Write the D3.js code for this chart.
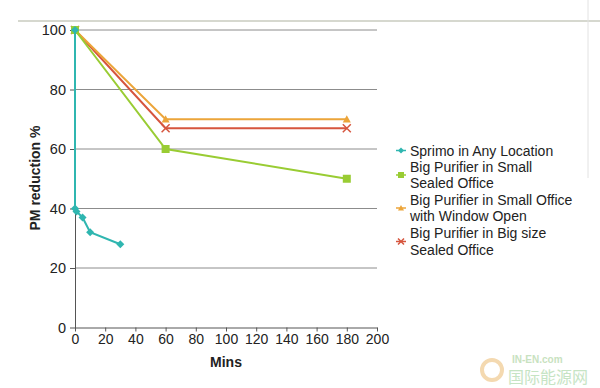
<!DOCTYPE html>
<html>
<head>
<meta charset="UTF-8">
<script src="https://d3js.org/d3.v7.min.js"></script>
<style>
  body { margin: 0; background: #fff; }
  svg { font-family: 'Liberation Sans', Arial, sans-serif; }
</style>
</head>
<body>
<svg id="chart" width="600" height="388"></svg>
<script>
  // data
  const seriesNames = [
    'Sprimo in Any Location',
    'Big Purifier in Small Sealed Office',
    'Big Purifier in Small Office with Window Open',
    'Big Purifier in Big size Sealed Office'
  ];
  const sprimoX = [0, 0, 1, 5, 10, 30];
  const sprimoY = [100, 40, 39, 37, 32, 28];
  const smallSealedX = [0, 60, 180];
  const smallSealedY = [100, 60, 50];
  const windowOpenX = [0, 60, 180];
  const windowOpenY = [100, 70, 70];
  const bigSealedX = [0, 60, 180];
  const bigSealedY = [100, 67, 67];
  const xTicks = [0, 20, 40, 60, 80, 100, 120, 140, 160, 180, 200];
  const yTicks = [0, 20, 40, 60, 80, 100];

  const legendLines = [
    ['Sprimo in Any Location'],
    ['Big Purifier in Small', 'Sealed Office'],
    ['Big Purifier in Small Office', 'with Window Open'],
    ['Big Purifier in Big size', 'Sealed Office']
  ];

  const series = [
    { xs: sprimoX, ys: sprimoY, color: '#2fb6b0', marker: 'diamond' },
    { xs: smallSealedX, ys: smallSealedY, color: '#99cc33', marker: 'square' },
    { xs: windowOpenX, ys: windowOpenY, color: '#eca53a', marker: 'triangle' },
    { xs: bigSealedX, ys: bigSealedY, color: '#d6553e', marker: 'cross' }
  ];

  const svg = d3.select('#chart');

  // frame lines of the original image
  svg.append('line').attr('x1', 18).attr('x2', 600).attr('y1', 21).attr('y2', 21)
    .attr('stroke', '#c9cbbf').attr('stroke-width', 1.5);
  svg.append('line').attr('x1', 588).attr('x2', 588).attr('y1', 0).attr('y2', 178)
    .attr('stroke', '#e2e2e2').attr('stroke-width', 1);

  const x = d3.scaleLinear().domain([0, 200]).range([75, 377]);
  const y = d3.scaleLinear().domain([0, 100]).range([327.5, 30]);

  // gridlines
  svg.append('g')
    .selectAll('line')
    .data(yTicks.filter(d => d > 0))
    .join('line')
    .attr('x1', x(0)).attr('x2', x(200))
    .attr('y1', d => y(d)).attr('y2', d => y(d))
    .attr('stroke', '#8c8c8c').attr('stroke-width', 1);

  // axes
  const xAxis = svg.append('g')
    .attr('transform', `translate(0,${y(0)})`)
    .call(d3.axisBottom(x).tickValues(xTicks).tickSize(4).tickPadding(3).tickSizeOuter(0));
  const yAxis = svg.append('g')
    .attr('transform', `translate(${x(0)},0)`)
    .call(d3.axisLeft(y).tickValues(yTicks).tickSize(5).tickPadding(4).tickSizeOuter(0));
  [xAxis, yAxis].forEach(a => {
    a.select('.domain').attr('stroke', '#555');
    a.selectAll('.tick line').attr('stroke', '#555');
    a.selectAll('text').attr('font-size', 14).attr('fill', '#222')
      .attr('font-family', "'Liberation Sans', Arial, sans-serif");
  });
  yAxis.selectAll('text').attr('font-size', 14.5);

  // axis titles
  svg.append('text')
    .attr('x', 226).attr('y', 367)
    .attr('text-anchor', 'middle')
    .attr('font-size', 14).attr('font-weight', 'bold').attr('fill', '#222')
    .text('Mins');
  svg.append('text')
    .attr('transform', 'translate(40,178) rotate(-90)')
    .attr('text-anchor', 'middle')
    .attr('font-size', 14).attr('font-weight', 'bold').attr('fill', '#222')
    .text('PM reduction %');

  function drawMarker(g, type, cx, cy, color, s) {
    if (type === 'diamond') {
      g.append('path').attr('d', `M${cx},${cy - s}L${cx + s},${cy}L${cx},${cy + s}L${cx - s},${cy}Z`)
        .attr('fill', color);
    } else if (type === 'square') {
      g.append('rect').attr('x', cx - s).attr('y', cy - s).attr('width', 2 * s).attr('height', 2 * s)
        .attr('fill', color);
    } else if (type === 'triangle') {
      g.append('path').attr('d', `M${cx},${cy - s}L${cx + s},${cy + s * 0.8}L${cx - s},${cy + s * 0.8}Z`)
        .attr('fill', color);
    } else {
      g.append('path').attr('d', `M${cx - s},${cy - s}L${cx + s},${cy + s}M${cx - s},${cy + s}L${cx + s},${cy - s}`)
        .attr('stroke', color).attr('stroke-width', 1.5);
    }
  }

  const line = d3.line().x(d => x(d[0])).y(d => y(d[1]));
  const plot = svg.append('g');
  series.slice().reverse().forEach(s => {
    const pts = s.xs.map((v, i) => [v, s.ys[i]]);
    plot.append('path').datum(pts)
      .attr('d', line)
      .attr('fill', 'none')
      .attr('stroke', s.color)
      .attr('stroke-width', 2);
    pts.forEach(p => drawMarker(plot, s.marker, x(p[0]), y(p[1]), s.color, 4));
  });

  // legend
  const legend = svg.append('g');
  const legendTop = [150.5, 166.5, 199.5, 233];
  legendLines.forEach((lines, i) => {
    const s = series[i];
    const top = legendTop[i];
    const my = top + (lines.length - 1) * 8.5;
    legend.append('line').attr('x1', 396).attr('x2', 406).attr('y1', my).attr('y2', my)
      .attr('stroke', s.color).attr('stroke-width', 1.5);
    drawMarker(legend, s.marker, 401, my, s.color, 3);
    lines.forEach((t, j) => {
      legend.append('text')
        .attr('x', 410).attr('y', top + j * 16.5 + 5)
        .attr('font-size', 14).attr('fill', '#222')
        .text(t);
    });
  });

  // watermark
  svg.append('circle').attr('cx', 492).attr('cy', 370).attr('r', 10)
    .attr('fill', 'none').attr('stroke', '#f4d9b0').attr('stroke-width', 4);
  svg.append('text').attr('x', 512).attr('y', 363)
    .attr('font-size', 10).attr('font-weight', 'bold').attr('fill', '#c8e2c0').text('IN-EN.com');
  svg.append('text').attr('x', 508).attr('y', 383)
    .attr('font-size', 16).attr('font-family', "'Noto Sans CJK SC', sans-serif")
    .attr('fill', '#c6e4c4').text('国际能源网');
</script>
</body>
</html>
